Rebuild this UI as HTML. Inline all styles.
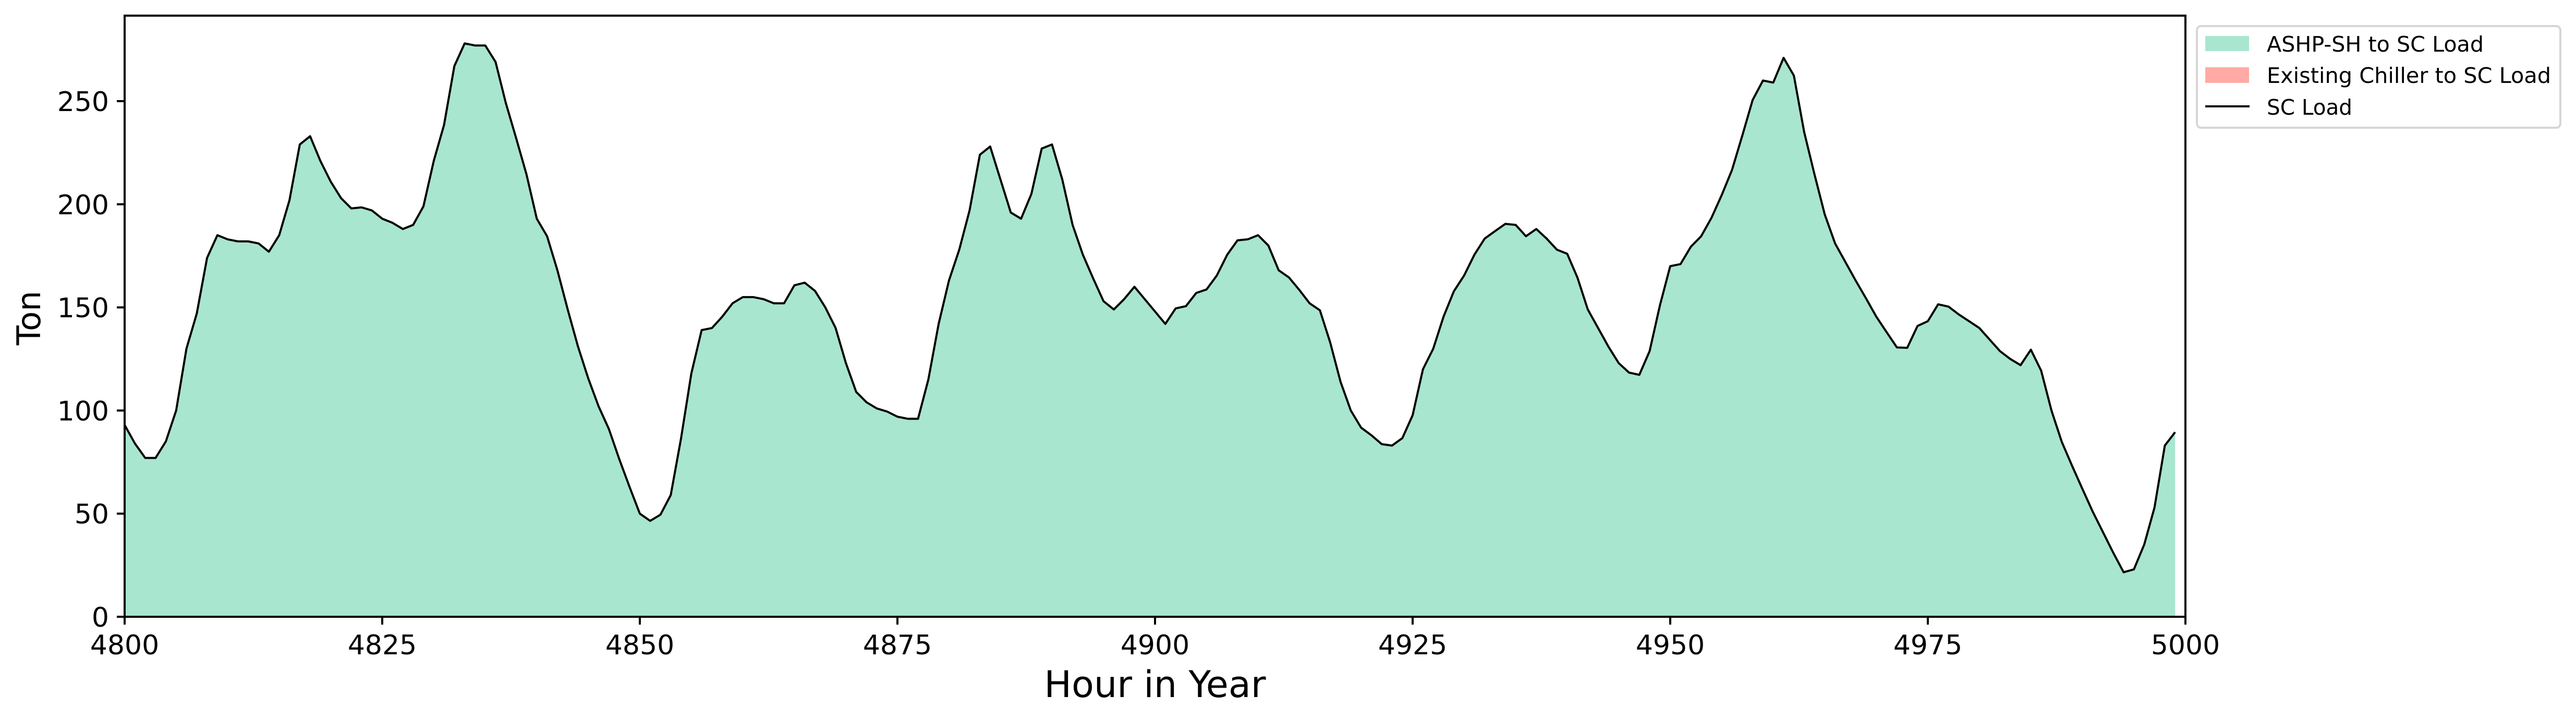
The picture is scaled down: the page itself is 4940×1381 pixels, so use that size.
<!DOCTYPE html>
<html><head><meta charset="utf-8"><style>html,body{margin:0;padding:0;background:#fff}svg{display:block}</style></head>
<body>
<svg id="chart" width="4940" height="1381" viewBox="0 0 4940 1381" xmlns="http://www.w3.org/2000/svg" font-family="'DejaVu Sans','Liberation Sans',sans-serif">
<g id="plot"></g>
<text x="77" y="610" font-size="62" text-anchor="middle" transform="rotate(-90 77 610)" dy="0">Ton</text>
<text x="2215" y="1337" font-size="70" text-anchor="middle">Hour in Year</text>
<g>
<rect x="4213" y="50" width="697" height="195" rx="8" fill="#fff" fill-opacity="0.8" stroke="#d6d6d6" stroke-width="4"/>
<rect x="4229" y="69" width="84" height="29" fill="#a8e6cf"/>
<text x="4347" y="99" font-size="41" textLength="416" lengthAdjust="spacingAndGlyphs">ASHP-SH to SC Load</text>
<rect x="4229" y="129" width="84" height="30" fill="#ffaaa5"/>
<text x="4347" y="159" font-size="41" textLength="545" lengthAdjust="spacingAndGlyphs">Existing Chiller to SC Load</text>
<line x1="4229" y1="204" x2="4314" y2="204" stroke="#000" stroke-width="4"/>
<text x="4347" y="220" font-size="41" textLength="164" lengthAdjust="spacingAndGlyphs">SC Load</text>
</g>
</svg>
<script>
const hourStart = 4800;
const scLoad = [93,84,77,77,85,100,130,147,174,185,183,182,182,181,177,185,202,229,233,221,211,203,198,198.5,197,193,191,188,190,199,221,238.5,267,278,277,277,269,249,232,214.5,193,184.5,168,149,131,115.5,102,91,76.5,63,50,46.5,49.5,59,86.5,118,139,140,145.5,152,155,155,154,152,152,160.7,162,158,150,140,123,109,104,101,99.5,97,96,96,115,142,163,178,197,224,228,212,196,193,205,227,229,212,190,175.5,164,153,149,154,160,154,148,142,149.5,150.6,157,158.7,165.5,175.5,182.5,183,185,180,168,164.5,158.5,152,148.6,133,114,100,91.7,88,83.7,83,86.6,97.7,120,130,145.5,157.8,165.5,175.6,183.4,187,190.5,190,184.5,188,183.4,178,176,164.4,149,140,131,123,118.4,117.3,128.8,151,170,171,179.4,184.5,193.4,204.5,216.7,233.4,250.6,260,259,271,262.4,235,214.5,195,181,172,163,154.4,145.5,138,130.6,130.4,141,143.3,151.5,150.4,146.6,143.3,140,134.4,128.8,125,122,129.5,119.3,100,84.8,73.2,62,51,41,31,21.6,23,35,53,83,89.5];
const chillerLoad = scLoad.map(() => 0);
const xTicks = [4800,4825,4850,4875,4900,4925,4950,4975,5000];
const yTicks = [0,50,100,150,200,250];

const X0=239,X1=4191,Y0=1183,YT=30, XMIN=4800, XMAX=5000, YMAX=(1183-30)/3.956;
const NS='http://www.w3.org/2000/svg';
function xs(h){return X0+(h-XMIN)/(XMAX-XMIN)*(X1-X0);}
function ys(v){return Y0-v/YMAX*(Y0-YT);}
const plot=document.getElementById('plot');
function mk(tag,attrs){const e=document.createElementNS(NS,tag);for(const k in attrs)e.setAttribute(k,attrs[k]);return e;}

let fillD='M'+xs(hourStart)+','+ys(0);
let lineD='';
scLoad.forEach((v,i)=>{const x=xs(hourStart+i),y=ys(v+0);fillD+=' L'+x+','+ys(v-chillerLoad[i]);lineD+=(i?' L':'M')+x+','+y;});
fillD+=' L'+xs(hourStart+scLoad.length-1)+','+ys(0)+' Z';
const area=mk('path',{d:fillD,fill:'#a8e6cf'});


plot.appendChild(area);
const line=mk('path',{d:lineD,fill:'none',stroke:'#000','stroke-width':4,'stroke-linejoin':'round'});


plot.appendChild(line);

const frame=mk('rect',{x:X0,y:YT,width:X1-X0,height:Y0-YT,fill:'none',stroke:'#000','stroke-width':4});


plot.appendChild(frame);

xTicks.forEach(t=>{
  const x=xs(t);
  const tk=mk('line',{x1:x,y1:Y0,x2:x,y2:Y0+15,stroke:'#000','stroke-width':4});
  
  
  plot.appendChild(tk);
  const lb=mk('text',{x:x,y:1255,'font-size':52,'text-anchor':'middle'});
  lb.textContent=t;
  
  
  plot.appendChild(lb);
});
yTicks.forEach(t=>{
  const y=ys(t);
  const tk=mk('line',{x1:X0-15,y1:y,x2:X0,y2:y,stroke:'#000','stroke-width':4});
  
  
  plot.appendChild(tk);
  const lb=mk('text',{x:209,y:y+19,'font-size':52,'text-anchor':'end'});
  lb.textContent=t;
  
  
  plot.appendChild(lb);
});
</script>
</body></html>
